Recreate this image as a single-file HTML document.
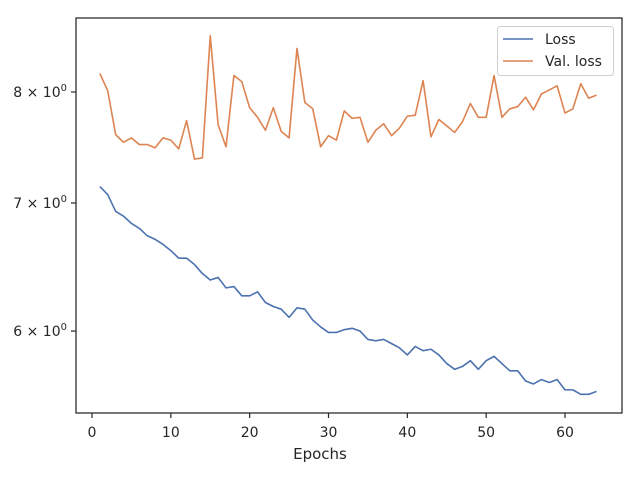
<!DOCTYPE html>
<html><head><meta charset="utf-8"><style>
html,body{margin:0;padding:0;background:#fff;}
svg{display:block;font-family:"DejaVu Sans","Liberation Sans",sans-serif;}
</style></head><body>
<svg id="chart" width="640" height="480" viewBox="0 0 640 480">
<rect x="0" y="0" width="640" height="480" fill="#fff"/>
<g id="plot"></g>
<rect x="76" y="18" width="546" height="395" fill="none" stroke="#262626" stroke-width="1.25"/>
<text x="320" y="459" text-anchor="middle" font-size="15" fill="#262626">Epochs</text>
<text transform="translate(-7,247) rotate(-90)" text-anchor="middle" font-size="15" fill="#262626">Loss</text>
<g>
<rect x="497.5" y="26.5" width="116" height="49" rx="3" fill="#fff" fill-opacity="0.8" stroke="#d0d0d0"/>
<line x1="503" y1="39" x2="533" y2="39" stroke="#4c72b0" stroke-width="1.6"/>
<text x="545" y="44" font-size="14" fill="#262626">Loss</text>
<line x1="503" y1="61" x2="533" y2="61" stroke="#dd8452" stroke-width="1.6"/>
<text x="545" y="66" font-size="14" fill="#262626">Val. loss</text>
</g>
</svg>
<script>
const epochs = Array.from({length:64},(_, i)=>i+1);
const lossValues = [7.14,7.07,6.93,6.89,6.83,6.79,6.73,6.70,6.66,6.61,6.55,6.55,6.50,6.43,6.38,6.40,6.32,6.33,6.26,6.26,6.29,6.21,6.18,6.16,6.10,6.17,6.16,6.08,6.03,5.99,5.99,6.01,6.02,6.00,5.94,5.93,5.94,5.91,5.88,5.83,5.89,5.86,5.87,5.83,5.77,5.73,5.75,5.79,5.73,5.79,5.82,5.77,5.72,5.72,5.65,5.63,5.66,5.64,5.66,5.59,5.59,5.56,5.56,5.58];
const valLossValues = [8.18,8.01,7.60,7.53,7.57,7.51,7.51,7.48,7.57,7.55,7.47,7.73,7.38,7.39,8.56,7.69,7.49,8.16,8.10,7.85,7.76,7.64,7.85,7.63,7.57,8.43,7.90,7.84,7.49,7.59,7.55,7.82,7.75,7.76,7.53,7.64,7.70,7.59,7.66,7.77,7.78,8.11,7.58,7.74,7.68,7.62,7.72,7.89,7.76,7.76,8.16,7.76,7.84,7.86,7.95,7.83,7.98,8.02,8.06,7.80,7.84,8.08,7.94,7.97];
const xTicks = [0,10,20,30,40,50,60];
const yTicks = [6,7,8];

const NS="http://www.w3.org/2000/svg";
const plot=document.getElementById('plot');
function xs(v){return 92+(565-92)*v/60;}
function ys(v){return 92-831*Math.log(v/8);}
function mk(tag,attrs){const e=document.createElementNS(NS,tag);for(const k in attrs)e.setAttribute(k,attrs[k]);plot.appendChild(e);return e;}

xTicks.forEach(t=>{
  const l=mk('line',{x1:xs(t),x2:xs(t),y1:413,y2:418,stroke:'#262626','stroke-width':1.2});
  
  
  const tx=mk('text',{x:xs(t),y:437,'text-anchor':'middle','font-size':14,fill:'#262626'});
  tx.textContent=t;
  
  
});
yTicks.forEach(t=>{
  const y=ys(t);
  const l=mk('line',{x1:71,x2:76,y1:y,y2:y,stroke:'#262626','stroke-width':1.2});
  
  
  const tx=mk('text',{x:67,y:y+5,'text-anchor':'end','font-size':14,fill:'#262626','xml:space':'preserve'});
  tx.innerHTML=t+' \u00d7 10<tspan dy="-6" font-size="10">0</tspan>';
  
  
});

function series(vals,color,name){
  const d=vals.map((v,i)=>(i?'L':'M')+xs(epochs[i]).toFixed(2)+' '+ys(v).toFixed(2)).join(' ');
  const p=mk('path',{d:d,fill:'none',stroke:color,'stroke-width':1.6,'stroke-linejoin':'round'});
  
  
}
series(lossValues,'#4c72b0','loss-line');
series(valLossValues,'#dd8452','val-loss-line');
</script>
</body></html>
